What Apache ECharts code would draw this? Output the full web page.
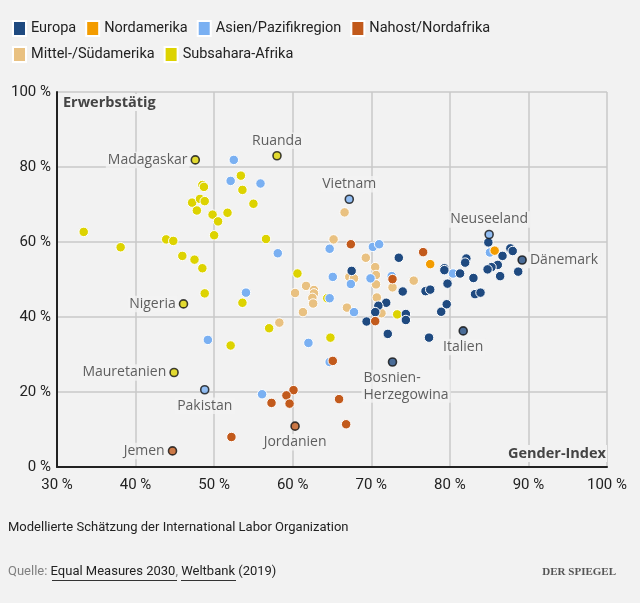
<!DOCTYPE html>
<html>
<head>
<meta charset="utf-8">
<script src="https://cdn.jsdelivr.net/npm/echarts@6/dist/echarts.min.js"></script>
<style>
html,body{margin:0;padding:0;background:#f2f2f2;}
#chart{width:640px;height:603px;}
</style>
</head>
<body>
<div id="chart"></div>
<script>
// ---------- data ----------
const regions = ['Europa', 'Nordamerika', 'Asien/Pazifikregion', 'Nahost/Nordafrika', 'Mittel-/Südamerika', 'Subsahara-Afrika'];
const xTicks = [30, 40, 50, 60, 70, 80, 90, 100];
const yTicks = [0, 20, 40, 60, 80, 100];

// [Gender-Index %, Erwerbstätig %]
const europa = [[73.5,55.8],[67.5,52.3],[74.0,46.8],[71.9,43.8],[70.9,43.0],[70.5,41.3],[69.4,38.8],[74.4,40.8],[74.4,39.2],[72.1,35.5],[84.9,59.9],[87.7,58.3],[88.0,57.6],[86.7,56.3],[82.1,55.6],[81.95,54.5],[79.3,53.0],[79.3,52.5],[81.3,51.6],[86.1,53.9],[85.3,53.3],[84.8,52.7],[88.7,52.1],[86.4,50.9],[83.0,50.4],[79.7,48.9],[76.9,46.9],[77.5,47.3],[83.2,46.1],[83.9,46.5],[79.6,43.4],[78.9,41.4],[77.35,34.5]];
const nordamerika = [[77.5,54.1],[85.7,57.7]];
const asien = [[52.5,81.9],[52.1,76.3],[55.9,75.6],[58.1,57.0],[64.7,58.2],[70.2,58.7],[71.0,59.4],[65.1,50.7],[69.9,50.3],[72.6,50.9],[49.2,33.9],[54.05,46.5],[62.0,33.1],[64.7,28.0],[56.1,19.4],[67.4,48.8],[64.7,45.0],[67.8,41.3],[85.1,57.2],[80.4,51.6]];
const nahost = [[67.4,59.4],[72.7,50.1],[65.1,28.3],[60.1,20.5],[59.2,19.1],[57.3,17.1],[59.6,16.9],[65.9,18.1],[66.8,11.4],[52.2,8.0],[70.5,38.9],[76.6,57.3]];
const mittelsued = [[66.6,67.9],[65.2,60.7],[69.3,55.8],[70.5,53.3],[67.2,50.7],[67.8,50.3],[70.6,51.2],[61.7,48.3],[60.3,46.4],[62.7,47.2],[62.7,46.3],[62.5,45.1],[62.6,43.6],[61.3,41.3],[70.6,48.7],[70.7,45.2],[66.9,42.5],[71.3,41.0],[75.4,49.7],[58.3,38.5],[72.7,47.9]];
const subsahara = [[33.4,62.7],[38.1,58.6],[43.9,60.7],[44.8,60.3],[45.95,56.3],[47.5,55.3],[48.5,53.0],[48.5,75.2],[48.7,74.7],[47.2,70.5],[48.2,71.5],[48.8,70.9],[47.8,68.4],[49.8,67.3],[50.5,65.5],[50.0,61.8],[51.7,67.8],[53.4,77.7],[53.6,73.9],[55.0,70.2],[56.6,60.8],[60.6,51.6],[48.8,46.3],[52.1,32.4],[53.6,43.8],[57.0,37.0],[64.8,34.5],[64.4,45.0],[73.3,40.7]];

// highlighted countries
const highlightNames = ['Madagaskar','Ruanda','Nigeria','Mauretanien','Pakistan','Vietnam','Neuseeland','Jemen','Jordanien','Dänemark','Italien','Bosnien-Herzegowina'];
const highlightLabels = ['Madagaskar','Ruanda','Nigeria','Mauretanien','Pakistan','Vietnam','Neuseeland','Jemen','Jordanien','Dänemark','Italien','Bosnien-\nHerzegowina'];
const highlightRegions = ['Subsahara-Afrika','Subsahara-Afrika','Subsahara-Afrika','Subsahara-Afrika','Asien/Pazifikregion','Asien/Pazifikregion','Asien/Pazifikregion','Nahost/Nordafrika','Nahost/Nordafrika','Europa','Europa','Europa'];
const highlightValues = [[47.6,81.9],[58.0,83.0],[46.1,43.5],[44.9,25.2],[48.8,20.6],[67.2,71.4],[85.0,62.0],[44.7,4.3],[60.3,10.9],[89.2,55.2],[81.7,36.3],[72.7,28.0]];

// ---------- style ----------
const colors = {
  'Europa': '#1f4a80',
  'Nordamerika': '#f39c00',
  'Asien/Pazifikregion': '#7ab0f2',
  'Nahost/Nordafrika': '#c25a1c',
  'Mittel-/Südamerika': '#e9c181',
  'Subsahara-Afrika': '#ddd300'
};
const labelLayout = {
  'Madagaskar': {position: 'left', distance: 1},
  'Ruanda': {position: 'top', distance: 2},
  'Nigeria': {position: 'left', distance: 1},
  'Mauretanien': {position: 'left', distance: 1},
  'Pakistan': {position: 'bottom', distance: 3},
  'Vietnam': {position: 'top', distance: 2},
  'Neuseeland': {position: 'top', distance: 2},
  'Jemen': {position: 'left', distance: 1},
  'Jordanien': {position: 'bottom', distance: 3},
  'Dänemark': {position: 'right', distance: 1},
  'Italien': {position: 'bottom', distance: 3},
  'Bosnien-Herzegowina': {position: 'bottom', distance: 3, align: 'left', offset: [-31, 0]}
};
const labelFont = "'Open Sans', Roboto, sans-serif";
const uiFont = "Roboto, 'Open Sans', sans-serif";

const seriesData = {
  'Subsahara-Afrika': subsahara,
  'Mittel-/Südamerika': mittelsued,
  'Asien/Pazifikregion': asien,
  'Europa': europa,
  'Nordamerika': nordamerika,
  'Nahost/Nordafrika': nahost
};

const series = Object.keys(seriesData).map(name => ({
  name: name,
  type: 'scatter',
  data: seriesData[name],
  symbol: 'circle',
  symbolSize: 9.5,
  itemStyle: {color: colors[name], borderColor: '#ffffff', borderWidth: 1, opacity: 1},
  emphasis: {disabled: true},
  z: 3
}));

series.push({
  name: 'markiert',
  type: 'scatter',
  z: 5,
  symbol: 'circle',
  symbolSize: 8,
  emphasis: {disabled: true},
  data: highlightNames.map((n, i) => {
    const lay = labelLayout[n];
    return {
      name: n,
      value: highlightValues[i],
      itemStyle: {color: colors[highlightRegions[i]], borderColor: '#111111', borderWidth: 1.6},
      label: Object.assign({
        show: true,
        formatter: highlightLabels[i],
        fontFamily: labelFont,
        fontSize: 14,
        lineHeight: 16.5,
        color: '#383838',
        backgroundColor: '#f2f2f2',
        padding: [0, 2]
      }, lay)
    };
  })
});

const chart = echarts.init(document.getElementById('chart'), null, {renderer: 'canvas'});
chart.setOption({
  backgroundColor: '#f2f2f2',
  animation: false,
  textStyle: {fontFamily: uiFont},
  legend: {
    data: regions,
    left: 7,
    top: 15,
    width: 500,
    itemWidth: 13,
    itemHeight: 15,
    itemGap: 9,
    icon: 'rect',
    selectedMode: false,
    textStyle: {fontFamily: uiFont, fontSize: 14.5, color: '#222'}
  },
  grid: {left: 57, right: 33, top: 92, bottom: 136, containLabel: false},
  xAxis: {
    type: 'value',
    min: xTicks[0],
    max: xTicks[xTicks.length - 1],
    interval: 10,
    axisLine: {show: true, onZero: false, lineStyle: {color: '#222', width: 2}},
    axisTick: {show: false},
    axisLabel: {margin: 11, fontSize: 15, color: '#222', fontFamily: uiFont, formatter: v => v + ' %'},
    splitLine: {show: true, lineStyle: {color: '#c9c9c9', width: 1.5}}
  },
  yAxis: {
    type: 'value',
    min: yTicks[0],
    max: yTicks[yTicks.length - 1],
    interval: 20,
    axisLine: {show: true, onZero: false, lineStyle: {color: '#222', width: 2}},
    axisTick: {show: false},
    axisLabel: {margin: 6, fontSize: 15, color: '#222', fontFamily: uiFont, formatter: v => v + ' %'},
    splitLine: {show: true, lineStyle: {color: '#c9c9c9', width: 1.5}}
  },
  graphic: [
    {type: 'text', left: 61, top: 94, z: 10, style: {text: 'Erwerbstätig', font: "bold 14.5px 'Open Sans', Roboto, sans-serif", fill: '#444', backgroundColor: '#f2f2f2', padding: [1, 2]}},
    {type: 'text', right: 33, top: 445, z: 10, style: {text: 'Gender-Index', font: "bold 14.5px 'Open Sans', Roboto, sans-serif", fill: '#444', backgroundColor: '#f2f2f2', padding: [1, 1]}},
    {type: 'text', left: 8, top: 521, style: {text: 'Modellierte Schätzung der International Labor Organization', font: "13px Roboto, sans-serif", fill: '#222'}},
    {type: 'text', left: 8, top: 565, style: {
      text: '{g|Quelle: }{l|Equal Measures 2030}{g|, }{l|Weltbank}{d| (2019)}',
      font: "13px Roboto, sans-serif",
      rich: {
        g: {fill: '#808080', font: "13px Roboto, sans-serif"},
        l: {fill: '#222', font: "13px Roboto, sans-serif"},
        d: {fill: '#222', font: "13px Roboto, sans-serif"}
      }
    }},
    {type: 'line', shape: {x1: 52, y1: 580.5, x2: 177, y2: 580.5}, style: {stroke: '#333', lineWidth: 1}},
    {type: 'line', shape: {x1: 181, y1: 580.5, x2: 236, y2: 580.5}, style: {stroke: '#333', lineWidth: 1}},
    {type: 'text', right: 24, top: 567, style: {text: 'DER SPIEGEL', font: "bold 11px 'Liberation Serif', 'DejaVu Serif', serif", fill: '#555'}}
  ],
  series: series
});
</script>
</body>
</html>
